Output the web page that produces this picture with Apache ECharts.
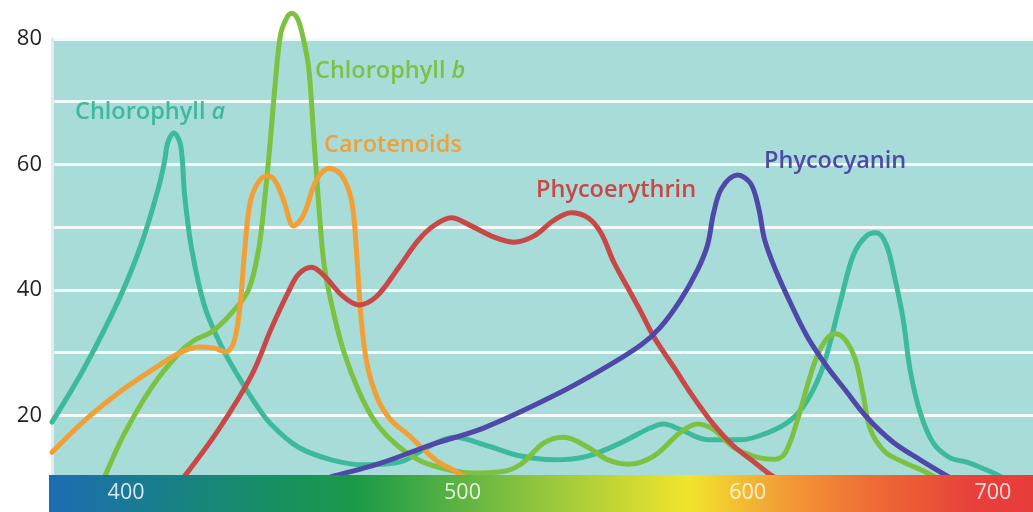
<!DOCTYPE html>
<html>
<head>
<meta charset="utf-8">
<script src="https://cdn.jsdelivr.net/npm/echarts@6/dist/echarts.min.js"></script>
<style>
  html, body { margin: 0; padding: 0; background: #fff; }
  #chart { width: 1033px; height: 512px; }
</style>
</head>
<body>
<div id="chart"></div>
<script>
// absorption spectra, [wavelength nm, absorption]
const chlA = [[373,18.9],[384.4,27.7],[396.2,38.4],[404.2,47.5],[410.1,56.4],[412.2,60.7],[413.2,63.4],[415.3,65.0],
  [417.7,63.1],[419.1,55.1],[421.6,46.4],[426.1,37.3],[432,30.9],[437.9,26.1],[444.1,21.6],[449.3,18.5],[458.7,14.9],
  [470.1,12.9],[481.6,12.1],[494.4,12.6],[503.1,14.8],[512.8,16.5],[524.6,15.1],[536,13.5],[547.5,12.9],[559.3,13.5],
  [570.7,15.6],[581.1,18.0],[585.6,18.6],[591.5,17.7],[600.9,16.1],[612.4,16.1],[621.7,17.2],[629.7,19.2],[635.6,22.4],
  [641.2,28.0],[647.1,38.2],[651.6,45.6],[656.1,48.6],[659.5,49.1],[663,47.2],[666.1,41.6],[668.9,35.2],[671.3,27.2],
  [674.8,20.4],[679.3,15.6],[685.2,13.2],[690.4,12.6],[697.3,11.4],[702.6,10.3],[706,9.3]];
const chlB = [[391.4,10.3],[398.3,17.2],[407.7,24.5],[417.1,29.9],[422.6,32.0],[428.5,33.3],[435.4,36.3],[441.3,40.0],
  [444.8,46.4],[446.9,54.3],[448.6,62.3],[450.4,71.9],[452.4,80.6],[454.5,83.3],[456.3,84.1],[458.3,83.3],[460.1,80.6],
  [462.2,75.5],[463.9,65.0],[465.6,54.3],[467.7,43.6],[471.2,35.7],[474.6,29.9],[479.5,24.0],[485,19.2],[492,15.6],
  [500.3,12.9],[508.3,11.6],[518.7,10.8],[529.1,11.0],[536,12.2],[544,15.6],[551,16.5],[559.3,14.9],[566.2,12.9],
  [573.2,12.2],[582.2,13.5],[591.5,17.3],[597.4,18.6],[603,17.7],[609.9,14.9],[618.3,13.3],[624.5,13.0],[628,14.1],
  [632.1,19.2],[635.6,24.8],[639.1,29.6],[642.5,32.3],[645.3,33.0],[648.8,32.0],[652.3,28.8],[655,23.2],[657.5,17.7],
  [662.7,14.1],[669.6,12.4],[676.5,11.0],[681.7,9.7]];
const carotenoids = [[373,14.1],[384.4,19.2],[396.2,23.6],[407.7,27.2],[417.1,29.9],[424,30.9],[429.5,30.7],[433.4,30.1],
  [436.1,31.5],[438.2,36.8],[440,46.4],[441.7,53.5],[444.1,56.7],[447.6,58.2],[450.4,57.5],[453.5,54.3],[457,50.2],
  [460.4,51.9],[464.9,57.5],[469.4,59.4],[473.6,58.3],[477.1,54.3],[478.8,46.4],[480.5,35.2],[482.6,28.0],[486.4,22.4],
  [490.9,19.2],[496.8,16.9],[501.4,14.9],[507.2,12.6],[512.8,11.2],[517,10.0]];
const phycoerythrin = [[419.1,10.3],[430.9,17.7],[442.4,26.4],[449.3,33.9],[455.2,39.7],[458.7,42.5],[463.2,43.6],
  [467.7,42.2],[473.6,39.2],[479.5,37.6],[485.7,38.9],[493.4,43.5],[500.3,47.9],[505.9,50.3],[511.8,51.5],[518.7,50.2],
  [526.7,48.4],[533.6,47.6],[540.6,48.6],[547.5,51.1],[553.4,52.3],[559.3,51.5],[563.8,49.1],[568.3,44.4],[573.2,40.3],
  [577.7,36.5],[582.2,32.5],[589.1,27.7],[596.1,22.8],[603,18.5],[609.9,15.1],[616.9,12.6],[622.8,10.5],[626.2,9.7]];
const phycocyanin = [[470.1,10.2],[487.5,12.4],[504.8,15.3],[523.2,18.0],[546.5,22.9],[563.8,27.2],[577.7,31.2],
  [584.6,34.1],[591.5,38.4],[597.4,43.2],[600.9,47.2],[603,52.3],[605.8,56.2],[611.3,58.3],[615.8,57.0],[618.6,53.1],
  [620.7,48.0],[624.5,43.2],[629.7,37.9],[635.6,32.5],[642.5,27.7],[648.8,24.0],[656.4,19.6],[665.4,15.7],[674.8,12.9],
  [683.5,10.5],[686.9,9.7]];

const pigmentNames = ['Chlorophyll a', 'Chlorophyll b', 'Carotenoids', 'Phycoerythrin', 'Phycocyanin'];
const spectrumLabels = ['400', '500', '600', '700'];
const yTicks = [20, 40, 60, 80];

const colors = ['#3dba9b', '#7dc142', '#f0a037', '#c84747', '#5048a8'];
const seriesData = [chlA, chlB, carotenoids, phycoerythrin, phycocyanin];

const myChart = echarts.init(document.getElementById('chart'));

// the illustration spaces its wavelength labels unevenly, so they sit where drawn
const labelAt = [399.7, 516.3, 615.1, 700.1];

const textFont = '600 23.5px "Open Sans", sans-serif';
function label(text, x, y, color, italic) {
  return {
    type: 'text', x: x, y: y, z: 20,
    style: {
      text: italic ? text.slice(0, -1) + '{i|' + text.slice(-1) + '}' : text,
      font: textFont, fill: color, verticalAlign: 'middle',
      rich: { i: { fontStyle: 'italic', fontWeight: 600, fontSize: 23.5, fontFamily: 'Open Sans', fill: color } }
    }
  };
}

const option = {
  animation: false,
  grid: [
    { left: 52, right: 0, top: 39, bottom: 34, show: true, backgroundColor: '#a8dcd8', borderWidth: 0 },
    {
      left: 49, right: 0, top: 475, bottom: 0, z: 10, show: true, borderWidth: 0,
      backgroundColor: new echarts.graphic.LinearGradient(0, 0, 1, 0, [
        { offset: 0, color: '#1c6cb4' },
        { offset: 0.16, color: '#178679' },
        { offset: 0.31, color: '#199a48' },
        { offset: 0.49, color: '#8cc43f' },
        { offset: 0.65, color: '#f2e52c' },
        { offset: 0.75, color: '#f39a36' },
        { offset: 0.84, color: '#ef6a35' },
        { offset: 0.94, color: '#e8403a' },
        { offset: 1, color: '#e83c3a' }
      ])
    }
  ],
  xAxis: [
    { type: 'value', gridIndex: 0, min: 373, max: 714, show: false },
    {
      type: 'value', gridIndex: 1, min: 373, max: 714, position: 'top', z: 11,
      axisLine: { show: false }, axisTick: { show: false }, splitLine: { show: false },
      axisLabel: {
        inside: true, margin: 7, customValues: labelAt,
        color: 'rgba(255,255,255,0.82)', fontSize: 21.5, fontFamily: 'Open Sans',
        formatter: function (v) {
          let best = 0;
          labelAt.forEach(function (p, i) { if (Math.abs(p - v) < Math.abs(labelAt[best] - v)) best = i; });
          return spectrumLabels[best];
        }
      }
    }
  ],
  yAxis: [
    {
      type: 'value', gridIndex: 0, min: 10, max: 80, interval: 10,
      axisLine: { show: true, lineStyle: { color: '#e2ecec', width: 3 } },
      axisTick: { show: false },
      splitLine: { lineStyle: { color: '#f2f9f8', width: 3 } },
      axisLabel: {
        margin: 10, color: '#231f20', fontSize: 22, fontFamily: 'Open Sans', padding: [4, 0, 0, 0],
        formatter: function (v) { return yTicks.indexOf(v) >= 0 ? String(v) : ''; }
      }
    },
    { type: 'value', gridIndex: 1, min: 0, max: 1, show: false }
  ],
  series: seriesData.map(function (d, i) {
    return {
      name: pigmentNames[i], type: 'line', data: d, smooth: 0.35, symbol: 'none', clip: false,
      xAxisIndex: 0, yAxisIndex: 0,
      lineStyle: { color: colors[i], width: 5, cap: 'round', join: 'round' }
    };
  }),
  graphic: [
    label(pigmentNames[0], 75, 112, colors[0], true),
    label(pigmentNames[1], 315, 71, colors[1], true),
    label(pigmentNames[2], 324, 145, colors[2], false),
    label(pigmentNames[3], 536, 190, colors[3], false),
    label(pigmentNames[4], 764, 161, colors[4], false)
  ]
};

myChart.setOption(option);
</script>
</body>
</html>
